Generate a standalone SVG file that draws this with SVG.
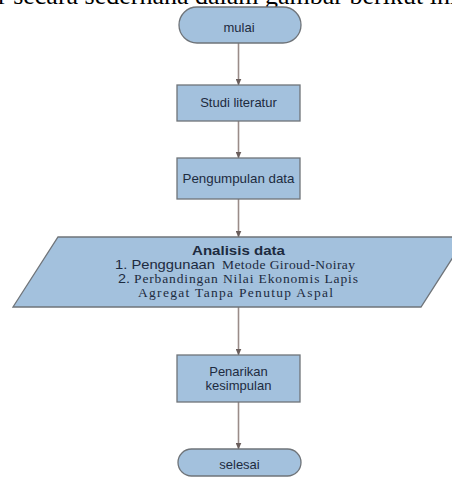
<svg xmlns="http://www.w3.org/2000/svg" width="452" height="478" viewBox="0 0 452 478">
<defs>
<style>
.shape{fill:#a3c1dd;stroke:#6f7479;stroke-width:1.3}
.lbl{font-family:"Liberation Sans",Arial,sans-serif;font-size:13px;fill:#1d2b40;text-anchor:middle}
.ser{font-family:"Liberation Serif","Times New Roman",serif;font-size:13.5px;fill:#1d2b40}
.san{font-family:"Liberation Sans",Arial,sans-serif;font-size:13px;fill:#1d2b40}
.conn{stroke:#9a8c89;stroke-width:1.6;fill:none;marker-end:url(#ah)}
</style>
<marker id="ah" markerWidth="7" markerHeight="6" refX="6.5" refY="3" orient="auto" markerUnits="userSpaceOnUse">
<path d="M0,0 L7,3 L0,6 Z" fill="#6a5e5c"/>
</marker>
</defs>
<rect width="452" height="478" fill="#ffffff"/>
<text x="-2" y="4" font-family="'Liberation Serif','Times New Roman',serif" font-size="26" fill="#000">r secara sederhana dalam gambar berikut ini</text>
<g id="connectors">
<line class="conn" x1="238.5" y1="43" x2="238.5" y2="85"/>
<line class="conn" x1="238.5" y1="121" x2="238.5" y2="158"/>
<line class="conn" x1="238.5" y1="199" x2="238.5" y2="237"/>
<line class="conn" x1="238.5" y1="307" x2="238.5" y2="355"/>
<line class="conn" x1="238.5" y1="402" x2="238.5" y2="449"/>
</g>
<g id="mulai">
<rect class="shape" x="179" y="7" width="122" height="36" rx="18" ry="18"/>
<text class="lbl" x="239" y="31.5">mulai</text>
</g>
<g id="studi">
<rect class="shape" x="177" y="85" width="123" height="36"/>
<text class="lbl" x="238.5" y="106.5">Studi literatur</text>
</g>
<g id="pengumpulan">
<rect class="shape" x="177" y="158" width="123" height="41"/>
<text class="lbl" x="238.5" y="183" textLength="112" lengthAdjust="spacingAndGlyphs">Pengumpulan data</text>
</g>
<g id="analisis">
<polygon class="shape" points="58,237 466,237 421,307 13,307"/>
<text class="san" x="238.5" y="254.5" font-weight="bold" font-size="14" text-anchor="middle" textLength="93" lengthAdjust="spacingAndGlyphs">Analisis data</text>
<text y="268.5"><tspan class="san" x="115" textLength="100" lengthAdjust="spacingAndGlyphs">1. Penggunaan</tspan><tspan class="ser" x="222" textLength="133" lengthAdjust="spacing">Metode Giroud-Noiray</tspan></text>
<text y="282.5"><tspan class="san" x="118" textLength="12" lengthAdjust="spacingAndGlyphs">2.</tspan><tspan class="ser" x="134" textLength="224" lengthAdjust="spacing">Perbandingan Nilai Ekonomis Lapis</tspan></text>
<text class="ser" x="138" y="296.5" textLength="195" lengthAdjust="spacing">Agregat Tanpa Penutup Aspal</text>
</g>
<g id="penarikan">
<rect class="shape" x="177" y="355" width="123" height="47"/>
<text class="lbl" x="238.5" y="375.5">Penarikan</text>
<text class="lbl" x="238.5" y="389.5">kesimpulan</text>
</g>
<g id="selesai">
<rect class="shape" x="178" y="449" width="123" height="27" rx="13.5" ry="13.5"/>
<text class="lbl" x="239.5" y="469">selesai</text>
</g>
</svg>
